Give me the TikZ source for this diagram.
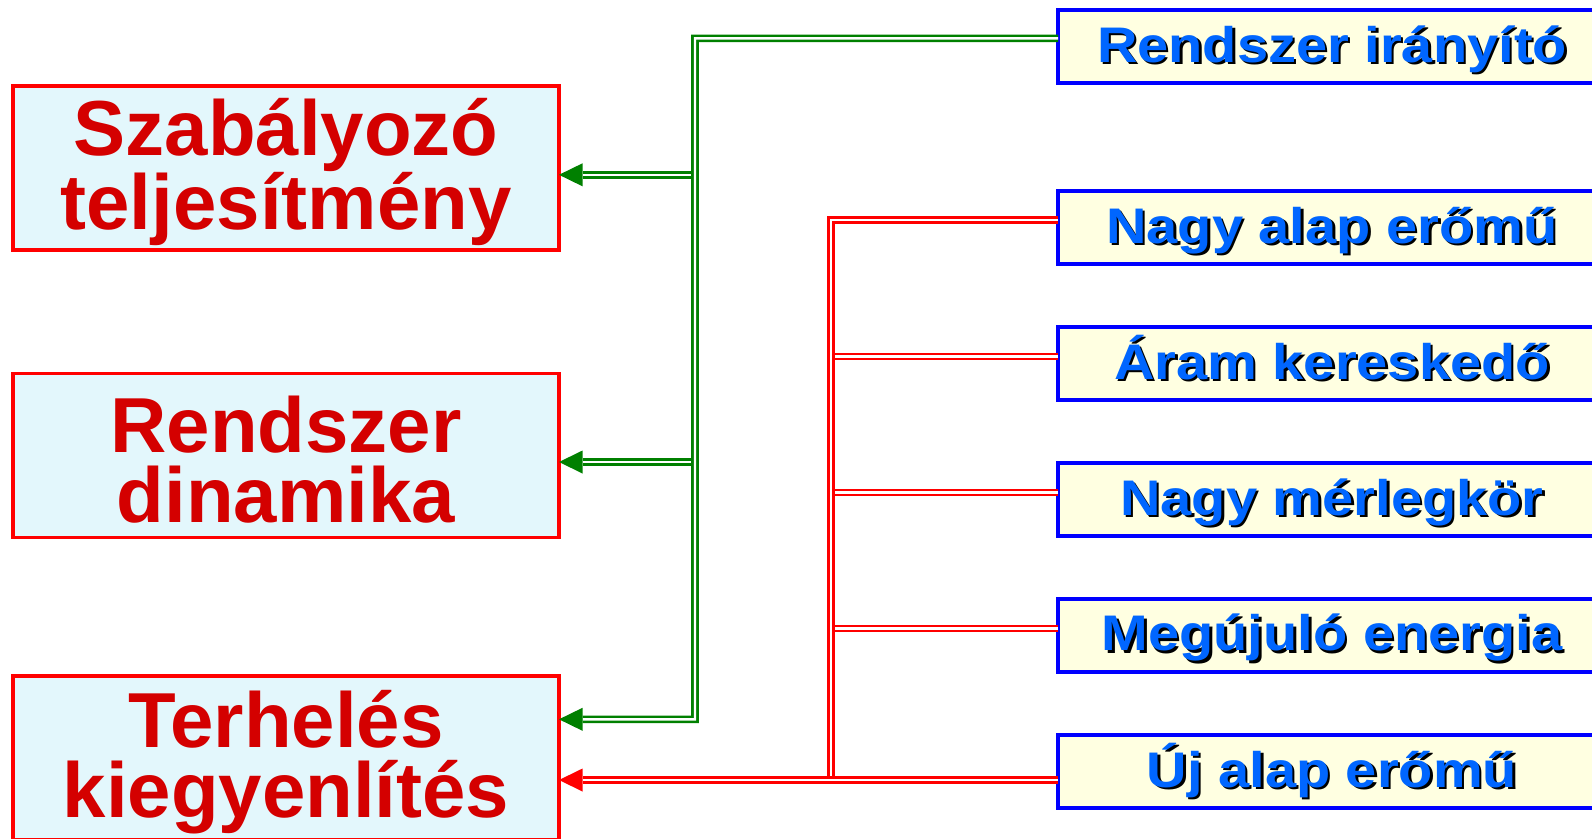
\documentclass[tikz,border=0pt]{standalone}
\usepackage{fontspec}
\setmainfont{Liberation Sans}
\newfontfamily\rfont[FakeStretch=1.12]{Liberation Sans}
\usetikzlibrary{arrows.meta}
\definecolor{boxred}{RGB}{255,0,0}
\definecolor{txtred}{RGB}{212,0,0}
\definecolor{cyanfill}{RGB}{227,247,252}
\definecolor{yelfill}{RGB}{255,255,225}
\definecolor{boxblue}{RGB}{0,0,255}
\definecolor{txtblue}{RGB}{0,102,255}
\definecolor{lnred}{RGB}{255,0,0}
\definecolor{lngreen}{RGB}{0,128,0}
\newcommand\shtext[1]{\rlap{\kern2.5pt\raisebox{-2.5pt}{\color{black}#1}}#1}
\begin{document}
\begin{tikzpicture}[x=1pt,y=-1pt,
  lbox/.style={draw=boxred, line width=3.5pt, fill=cyanfill, minimum width=546pt, minimum height=164pt,
    outer sep=0pt, inner sep=0pt},
  ltext/.style={inner sep=0pt, align=center, text=txtred, font=\fontsize{78}{70}\selectfont\bfseries},
  rbox/.style={draw=boxblue, line width=4pt, fill=yelfill, minimum width=548pt, minimum height=73pt,
    outer sep=0pt, inner sep=0pt, text height=31pt, text depth=0pt, text=txtblue,
    font=\rfont\fontsize{50}{60}\selectfont\bfseries},
  gline/.style={draw=lngreen, double=white, line width=2.6pt, double distance=2.4pt},
  rline/.style={draw=lnred, double=white, line width=2.6pt, double distance=2.4pt},
  tipend/.style={-{Triangle[length=23.5pt,width=23pt,line width=0pt]}}
]
\useasboundingbox (0,0) rectangle (1592,838);
\fill[white] (0,0) rectangle (1592,838);
\clip (0,0) rectangle (1592,838);

% left boxes
\node[lbox] (l1) at (286,168) {};
\node[lbox] (l2) at (286,455.4) {};
\node[lbox] (l3) at (286,758) {};
\node[ltext] (l1t) at ([yshift=-4pt]l1.center) {Szabályozó\\teljesítmény};
\node[ltext] (l2t) at ([yshift=-4pt]l2.center) {Rendszer\\dinamika};
\node[ltext] (l3t) at ([yshift=-4pt]l3.center) {Terhelés\\kiegyenlítés};

% right boxes
\node[rbox] (r1) at (1332,46.8) {\shtext{Rendszer irányító}};
\node[rbox] (r2) at (1332,227.5) {\shtext{Nagy alap erőmű}};
\node[rbox] (r3) at (1332,363.5) {\shtext{Áram kereskedő}};
\node[rbox] (r4) at (1332,499.7) {\shtext{Nagy mérlegkör}};
\node[rbox] (r5) at (1332,635.2) {\shtext{Megújuló energia}};
\node[rbox] (r6) at (1332,771.8) {\shtext{Új alap erőmű}};

% green connectors
\coordinate (gt) at (695,38.4);
\coordinate (gb) at (695,719.3);
\coordinate (g1) at (695,174.8);
\coordinate (g2) at (695,462);
\draw[gline,tipend] (g1) -- (g1 -| l1.east);
\draw[gline,tipend] (g2) -- (g2 -| l2.east);
\draw[gline,tipend] ([yshift=8.4pt]r1.west) -- (gt) -- (gb) -- (gb -| l3.east);

% red connectors
\coordinate (rt) at (831,220.2);
\coordinate (rb) at (831,780);
\coordinate (q3) at (831,356.3);
\coordinate (q4) at (831,492.3);
\coordinate (q5) at (831,628.3);
\draw[rline] ([yshift=7.2pt]r3.west) -- (q3);
\draw[rline] ([yshift=7.4pt]r4.west) -- (q4);
\draw[rline] ([yshift=6.9pt]r5.west) -- (q5);
\draw[rline] ([yshift=7.3pt]r2.west) -- (rt) -- (rb);
\draw[rline,tipend] ([yshift=-8.2pt]r6.west) -- (rb) -- (rb -| l3.east);
\end{tikzpicture}
\end{document}
